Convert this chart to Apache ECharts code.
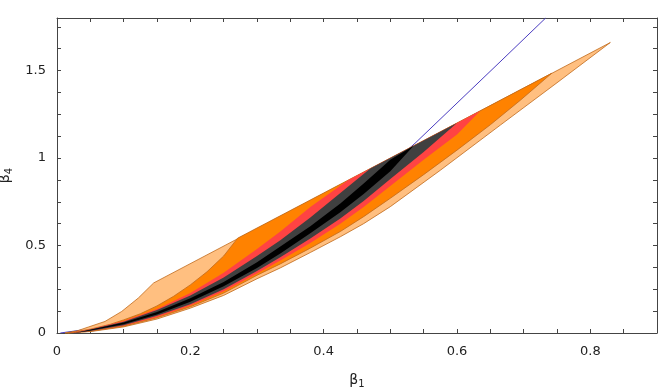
<!DOCTYPE html>
<html>
<head>
<meta charset="utf-8">
<script src="https://cdn.jsdelivr.net/npm/echarts@6/dist/echarts.min.js"></script>
<style>
  html, body { margin: 0; padding: 0; background: #fff; }
  #main { width: 664px; height: 389px; }
</style>
</head>
<body>
<div id="main"></div>
<script>
// tick positions / labels
const xTicks = [0, 0.05, 0.1, 0.15, 0.2, 0.25, 0.3, 0.35, 0.4, 0.45, 0.5, 0.55, 0.6, 0.65, 0.7, 0.75, 0.8, 0.85];
const xLabels = [0, 0.2, 0.4, 0.6, 0.8];
const yTicks = [0, 0.125, 0.25, 0.375, 0.5, 0.625, 0.75, 0.875, 1, 1.125, 1.25, 1.375, 1.5, 1.625, 1.75];
const yLabels = [0, 0.5, 1, 1.5];

// region boundaries [beta1, beta4], left to right
// light orange (outer)
const loUpper = [[0.012,0],[0.03,0.012],[0.047,0.034],[0.072,0.066],[0.097,0.123],[0.122,0.2],[0.145,0.286],[0.83,1.66]];
const loLower = [[0.012,0],[0.05,0.008],[0.1,0.035],[0.15,0.08],[0.2,0.142],[0.25,0.215],[0.3,0.31],[0.335,0.372],[0.38,0.46],[0.425,0.55],[0.46,0.625],[0.5,0.722],[0.575,0.93],[0.665,1.188],[0.75,1.43],[0.83,1.66]];
// orange
const orUpper = [[0.016,0],[0.05,0.022],[0.08,0.05],[0.1,0.075],[0.125,0.11],[0.15,0.155],[0.175,0.21],[0.2,0.275],[0.225,0.35],[0.25,0.44],[0.271,0.542],[0.742,1.484]];
const orLower = [[0.016,0],[0.05,0.01],[0.1,0.039],[0.15,0.087],[0.2,0.15],[0.25,0.228],[0.3,0.33],[0.335,0.395],[0.38,0.485],[0.425,0.58],[0.46,0.665],[0.5,0.77],[0.55,0.905],[0.6,1.045],[0.65,1.19],[0.695,1.33],[0.742,1.484]];
// red
const rdUpper = [[0.02,0],[0.05,0.021],[0.1,0.068],[0.15,0.137],[0.2,0.228],[0.25,0.345],[0.3,0.48],[0.335,0.58],[0.38,0.72],[0.437,0.874],[0.635,1.27]];
const rdLower = [[0.02,0],[0.05,0.011],[0.1,0.042],[0.15,0.092],[0.2,0.157],[0.25,0.238],[0.3,0.34],[0.335,0.414],[0.38,0.515],[0.425,0.625],[0.46,0.72],[0.5,0.84],[0.55,0.99],[0.6,1.135],[0.635,1.27]];
// dark gray
const dgUpper = [[0.024,0],[0.05,0.02],[0.1,0.065],[0.15,0.131],[0.2,0.214],[0.25,0.317],[0.3,0.44],[0.335,0.53],[0.38,0.66],[0.425,0.8],[0.47,0.94],[0.6,1.2]];
const dgLower = [[0.024,0],[0.05,0.012],[0.1,0.045],[0.15,0.098],[0.2,0.165],[0.25,0.25],[0.3,0.355],[0.335,0.433],[0.38,0.54],[0.425,0.655],[0.46,0.755],[0.5,0.88],[0.55,1.035],[0.6,1.2]];
// black (inner)
const bkUpper = [[0.028,0],[0.05,0.018],[0.1,0.06],[0.15,0.12],[0.2,0.198],[0.25,0.292],[0.3,0.405],[0.335,0.494],[0.38,0.61],[0.425,0.74],[0.46,0.855],[0.5,0.99],[0.535,1.07]];
const bkLower = [[0.028,0],[0.05,0.014],[0.1,0.05],[0.15,0.106],[0.2,0.178],[0.25,0.267],[0.3,0.372],[0.335,0.455],[0.38,0.57],[0.425,0.69],[0.46,0.795],[0.5,0.925],[0.535,1.07]];

// blue curve (mostly hidden under the regions)
const blueLine = [[0.005,0],[0.1,0.05],[0.2,0.185],[0.3,0.385],[0.4,0.65],[0.5,0.96],[0.537,1.084],[0.6645,1.549],[0.733,1.8]];

const chart = echarts.init(document.getElementById("main"));

// closed outline: upper boundary then lower boundary backwards
function outline(upper, lower) {
  return upper.concat(lower.slice().reverse());
}

function regionSeries(name, upper, lower, fill, stroke) {
  return {
    name: name,
    type: "custom",
    coordinateSystem: "cartesian2d",
    data: outline(upper, lower),
    encode: { x: 0, y: 1 },
    silent: true,
    renderItem: function (params, api) {
      if (params.dataIndex !== 0) return null;
      const pts = outline(upper, lower).map((p) => api.coord(p));
      return {
        type: "polygon",
        shape: { points: pts },
        style: { fill: fill, stroke: stroke, lineWidth: stroke ? 0.8 : 0 },
      };
    },
  };
}

const frameColor = "#444";
const labelStyle = { fontFamily: "DejaVu Sans", fontSize: 13, color: "#222" };
const nameRich = {
  b: { fontFamily: "DejaVu Sans", fontSize: 14, color: "#222" },
  s: { fontFamily: "DejaVu Sans", fontSize: 10, color: "#222", padding: [8, 0, 0, 0] },
};

function xAxisCfg(pos, showLabels) {
  return {
    type: "value",
    position: pos,
    min: 0,
    max: 0.9,
    axisLine: { show: true, onZero: false, lineStyle: { color: frameColor, width: 1 } },
    axisTick: { show: true, inside: true, length: 4, customValues: xTicks, lineStyle: { color: frameColor } },
    axisLabel: Object.assign({ show: showLabels, margin: 12, customValues: xLabels }, labelStyle),
    splitLine: { show: false },
    name: showLabels ? "{b|β}{s|1}" : "",
    nameLocation: "middle",
    nameGap: 38,
    nameTextStyle: { rich: nameRich },
  };
}

function yAxisCfg(pos, showLabels) {
  return {
    type: "value",
    position: pos,
    min: 0,
    max: 1.8,
    axisLine: { show: true, onZero: false, lineStyle: { color: frameColor, width: 1 } },
    axisTick: { show: true, inside: true, length: 4, customValues: yTicks, lineStyle: { color: frameColor } },
    axisLabel: Object.assign({ show: showLabels, margin: 11, customValues: yLabels }, labelStyle),
    splitLine: { show: false },
    name: showLabels ? "{b|β}{s|4}" : "",
    nameLocation: "middle",
    nameGap: 40,
    nameRotate: 90,
    nameTextStyle: { rich: nameRich },
  };
}

const option = {
  animation: false,
  backgroundColor: "#fff",
  grid: { left: 57, right: 7, top: 18, bottom: 56, containLabel: false, outerBoundsMode: "none" },
  xAxis: [xAxisCfg("bottom", true), xAxisCfg("top", false)],
  yAxis: [yAxisCfg("left", true), yAxisCfg("right", false)],
  series: [
    {
      name: "curve",
      type: "line",
      data: blueLine,
      showSymbol: false,
      lineStyle: { color: "#4a3cc0", width: 1 },
      z: 1,
    },
    regionSeries("outer", loUpper, loLower, "#ffbf80", "#c06a1a"),
    regionSeries("orange", orUpper, orLower, "#ff8200", "#c06a1a"),
    regionSeries("red", rdUpper, rdLower, "#ff4343", null),
    regionSeries("gray", dgUpper, dgLower, "#404040", null),
    regionSeries("black", bkUpper, bkLower, "#000000", null),
  ],
};

chart.setOption(option);
</script>
</body>
</html>
